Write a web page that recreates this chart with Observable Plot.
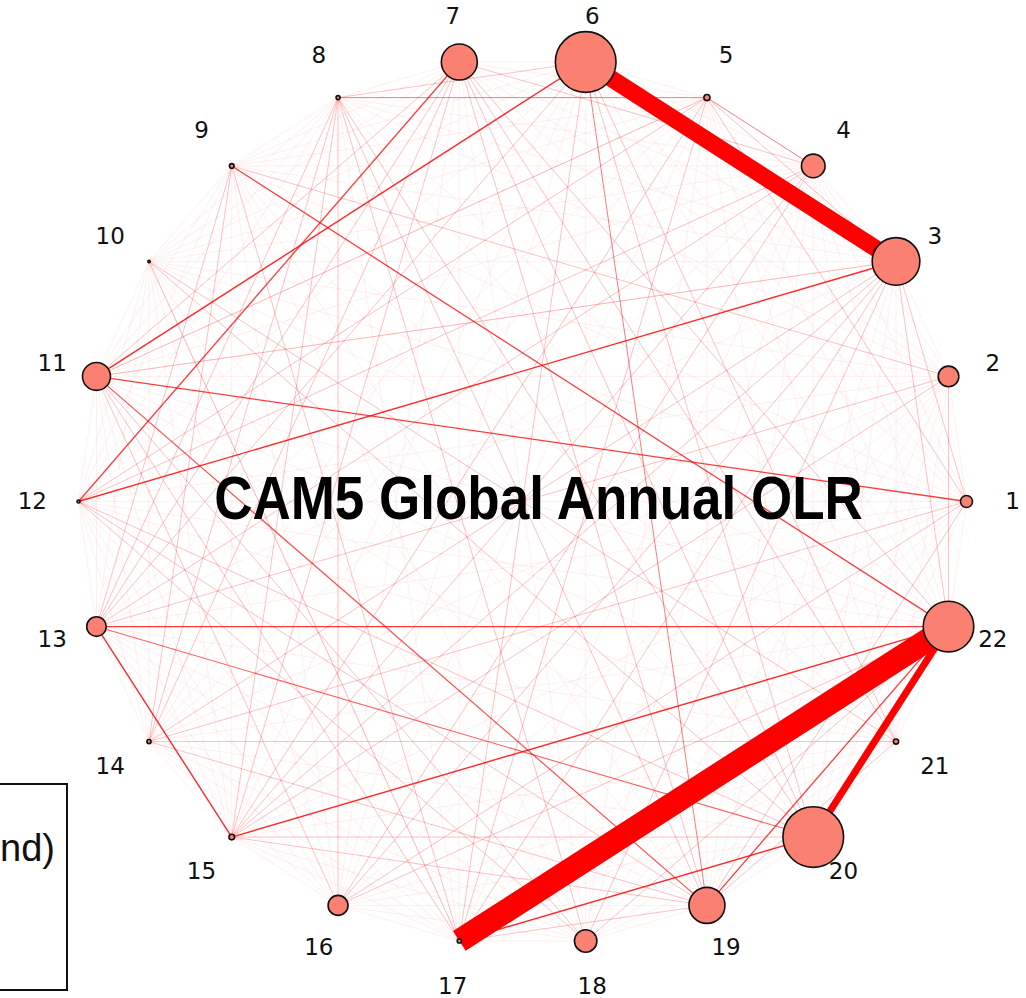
<!DOCTYPE html>
<html>
<head>
<meta charset="utf-8">
<script src="https://cdn.jsdelivr.net/npm/d3@7"></script>
<script src="https://cdn.jsdelivr.net/npm/@observablehq/plot@0.6"></script>
<style>
  html, body { margin: 0; padding: 0; background: #fff; }
  #wrap { position: relative; width: 1026px; height: 998px; overflow: hidden; }
  #legend { position: absolute; left: -220px; top: 783px; width: 288px; height: 208px;
            border: 2px solid #111; box-sizing: border-box; background: transparent; }
  #legend span { position: absolute; right: 11px; top: 42px; font: 38px "Liberation Sans", Arial, sans-serif; color: #111; }
</style>
</head>
<body>
<div id="wrap"><div id="legend"><span id="legtext"></span></div></div>
<script>
// ---- data ----
const nodeIds = [1,2,3,4,5,6,7,8,9,10,11,12,13,14,15,16,17,18,19,20,21,22];
const nodeStrength = [3.9,11.4,61,15,1.0,99,34.8,0.43,0.57,0.15,21,0.24,10.3,0.47,0.84,10.7,0.47,13.5,34.8,99,0.73,68.8];

// [source, target, weight]
const strongEdges = [[22,17,1.0],[6,3,0.72],[22,20,0.3]];
const mediumEdges = [
  [11,1,0.055],[12,3,0.06],[11,6,0.06],[12,7,0.055],[9,22,0.055],[13,22,0.055],
  [13,15,0.06],[15,22,0.06],[11,19,0.05],[17,20,0.06],[19,22,0.055],[13,20,0.045],
  [8,5,0.04],[6,19,0.04],[5,4,0.04]
];
const lightPairs = "1-3 1-5 1-14 1-16 1-19 2-22 2-9 2-13 2-15 3-14 3-15 3-16 3-17 3-18 3-22 3-5 4-7 4-13 4-15 4-16 4-12 5-15 5-12 5-17 6-20 6-8 6-13 6-21 6-17 7-11 7-13 7-14 7-15 7-20 7-21 7-22 7-19 8-13 8-14 8-15 8-16 8-20 8-19 8-18 9-13 9-14 9-17 10-20 10-21 11-16 11-17 11-3 11-5 12-18 12-19 12-20 14-21 14-19 15-20 15-19 16-22 17-19 17-10 18-22 18-11 19-21";
const lightWeight = 0.02;
const faintPairs = "9-4 10-3 11-2 12-1 16-19 17-18 6-18 7-17 9-15 10-14 11-13 4-20 5-19 3-21 1-2 1-4 1-6 1-7 1-9 1-10 1-13 1-15 1-17 1-18 1-20 1-22 2-3 2-4 2-6 2-7 2-8 2-10 2-12 2-14 2-16 2-17 2-18 2-19 2-20 2-21 3-4 3-7 3-8 3-9 3-11 3-13 3-19 3-20 4-6 4-8 4-10 4-11 4-14 4-17 4-18 4-19 4-21 4-22 5-6 5-7 5-9 5-10 5-11 5-13 5-14 5-16 5-18 5-20 5-21 5-22 6-7 6-9 6-10 6-12 6-14 6-15 6-16 6-22 7-8 7-9 7-10 7-16 7-18 8-9 8-10 8-11 8-12 8-17 8-21 8-22 9-10 9-11 9-12 9-16 9-18 9-19 9-20 9-21 10-11 10-12 10-13 10-15 10-16 10-17 10-18 10-19 10-22 11-12 11-14 11-15 11-20 11-21 11-22 12-13 12-14 12-15 12-16 12-17 12-21 12-22 13-14 13-16 13-17 13-18 13-19 13-21 14-15 14-16 14-17 14-18 14-20 14-22 15-16 15-17 15-18 15-21 16-17 16-18 16-20 16-21 17-21 18-19 18-20 18-21 19-20 20-21 21-22";
const faintWeight = 0.005;
const titleText = "CAM5 Global Annual OLR";
const legendText = "nd)";

// ---- build ----
const n = nodeIds.length;
const nodes = nodeIds.map((id, i) => {
  const a = 2 * Math.PI * i / n;
  return {id, s: nodeStrength[i], x: Math.cos(a), y: Math.sin(a), lx: 1.104 * Math.cos(a), ly: 1.104 * Math.sin(a)};
});
const byId = new Map(nodes.map(d => [d.id, d]));
const parse = (str, w) => str.trim().split(/\s+/).map(p => { const [a, b] = p.split("-").map(Number); return [a, b, w]; });
const edges = [
  ...parse(faintPairs, faintWeight),
  ...parse(lightPairs, lightWeight),
  ...mediumEdges,
  ...strongEdges
].map(([a, b, w]) => ({a: byId.get(a), b: byId.get(b), w}))
 .sort((p, q) => p.w - q.w);

const W = 1026, H = 998, cx = 522, cy = 501, R = 444;

const chart = Plot.plot({
  width: W,
  height: H,
  margin: 0,
  x: {domain: [-cx / R, (W - cx) / R], axis: null},
  y: {domain: [(cy - H) / R, cy / R], axis: null},
  r: {type: "sqrt", domain: [0, 100], range: [0, 30.5]},
  style: {background: "transparent"},
  marks: [
    Plot.link(edges, {
      x1: d => d.a.x, y1: d => d.a.y, x2: d => d.b.x, y2: d => d.b.y,
      stroke: "#ff0000",
      strokeWidth: d => Math.max(0.9, d.w * 23.5),
      strokeOpacity: d => Math.min(1, d.w * 14)
    }),
    Plot.dot(nodes, {x: "x", y: "y", r: "s", fill: "#fa8072", stroke: "#111", strokeWidth: 1.6}),
    Plot.text(nodes, {x: "lx", y: "ly", text: d => String(d.id), fontSize: 23,
      fontFamily: "DejaVu Sans", fill: "#111"}),
    Plot.text([titleText], {x: () => 16 / R, y: () => 2 / R, text: d => d, fontSize: 53,
      fontWeight: "bold", fontFamily: "Liberation Sans, Arial, sans-serif", fill: "#000"})
  ]
});
chart.style.position = "absolute";
chart.style.left = "0px";
chart.style.top = "0px";
// stretch the title vertically like the reference lettering
chart.querySelectorAll("text").forEach(t => {
  if (t.textContent === titleText) {
    const tr = t.getAttribute("transform") || "";
    t.setAttribute("transform", tr + " scale(1,1.14)");
  }
});
document.getElementById("wrap").prepend(chart);
document.getElementById("legtext").textContent = legendText;
</script>
</body>
</html>
